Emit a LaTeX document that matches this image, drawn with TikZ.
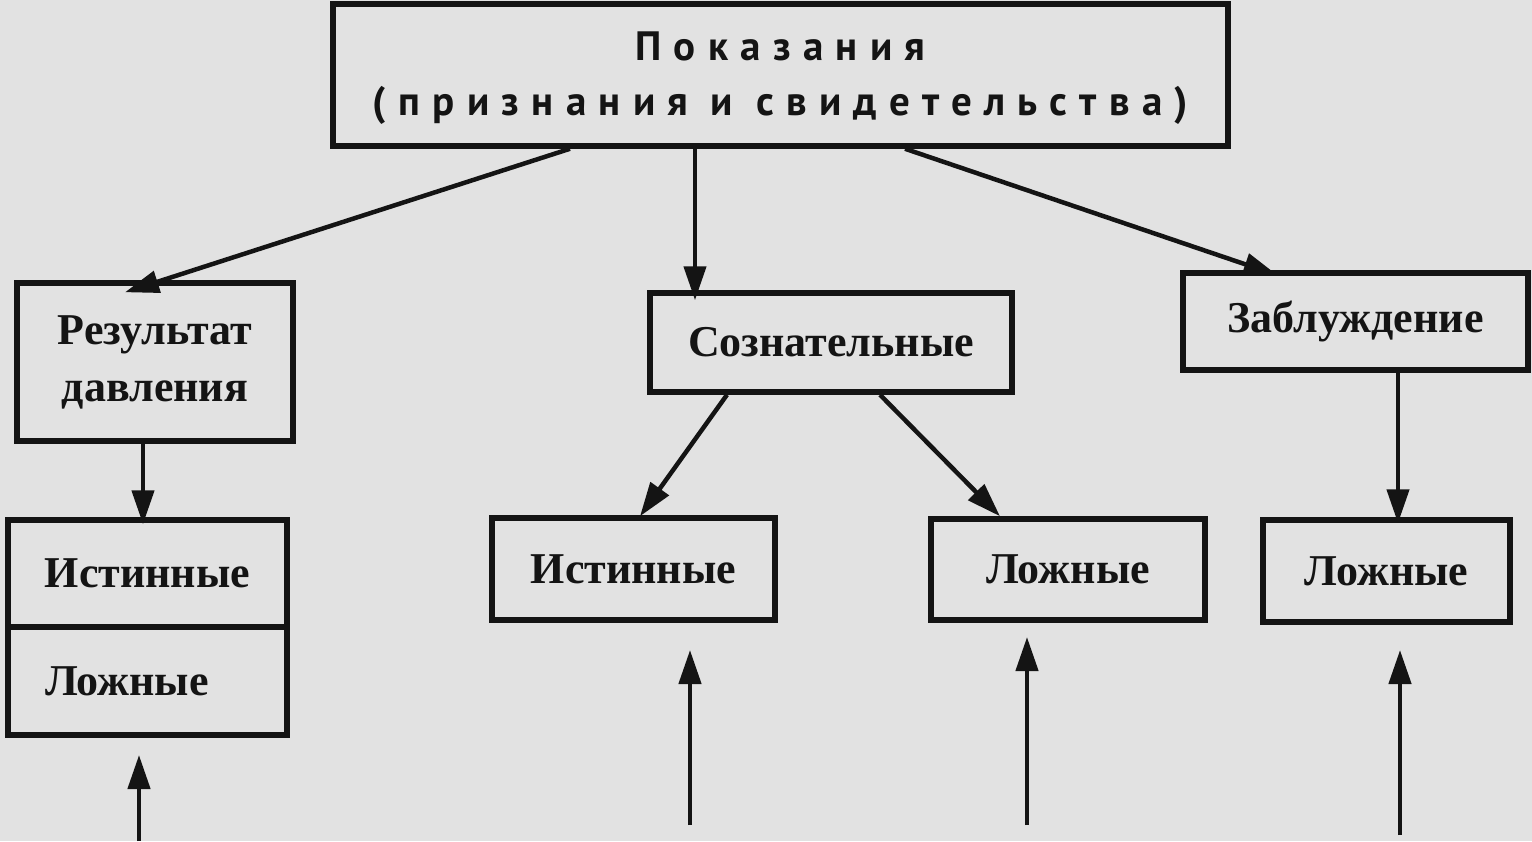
\documentclass[tikz,border=0pt]{standalone}
\usepackage{fontspec}
\setmainfont{Liberation Serif}
\newfontfamily\topfont[LetterSpace=30]{PT Sans}
\usetikzlibrary{arrows.meta,calc}
\definecolor{paper}{RGB}{226,226,226}
\definecolor{ink}{RGB}{20,20,20}
\begin{document}
\begin{tikzpicture}[x=1pt,y=-1pt,
  box/.style={draw=ink,line width=5.5pt,minimum width=#1,inner sep=0pt,text=ink,
    font=\bfseries\fontsize{44}{57}\selectfont,align=center},
  arr/.style={draw=ink,line width=4.5pt,-{Triangle[length=34pt,width=22pt]}}]
\fill[paper] (0,0) rectangle (1532,841);
\useasboundingbox (0,0) rectangle (1532,841);

\node[box=895pt,minimum height=142pt,font=\topfont\bfseries\fontsize{41}{55}\selectfont] (top) at (780.5,75) {};
\node[text=ink,font=\topfont\bfseries\fontsize{41}{55}\selectfont,align=center] (toptext) at (780.5,78)
  {Показания\\(признания и свидетельства)};
\node[box=276pt,minimum height=158pt] (rez) at (155,362) {Результат\\давления};
\node[box=362pt,minimum height=99pt] (soz) at (831,342.5) {Сознательные};
\node[box=345pt,minimum height=97pt] (zab) at (1355.5,321.5) {Заблуждение};

\node[box=279pt,minimum height=107pt] (ist1) at (147.5,573.5) {Истинные};
\node[box=279pt,minimum height=108pt,text width=205pt,align=left,inner xsep=37pt] (lozh1) at (147.5,681) {Ложные};
\node[box=283pt,minimum height=102pt] (ist2) at (633.5,569) {Истинные};
\node[box=274pt,minimum height=101pt] (lozh2) at (1068,569.5) {Ложные};
\node[box=247pt,minimum height=102pt] (lozh3) at (1386.5,571) {Ложные};

\coordinate (b1) at (139,841);
\coordinate (b2) at (690,825);
\coordinate (b3) at (1027,825);
\coordinate (b4) at (1400,835);

\draw[arr] ([xshift=-210.5pt]top.south) -- ([xshift=-30pt,yshift=-12pt]rez.north);
\draw[arr] ([xshift=-85.5pt]top.south) -- ([xshift=-136pt,yshift=-10pt]soz.north);
\draw[arr] ([xshift=124.5pt]top.south) -- ([xshift=-78pt,yshift=-5pt]zab.north);
\draw[arr] ([xshift=-12pt]rez.south) -- ([xshift=-4.5pt,yshift=-7pt]ist1.north);
\draw[arr] ([xshift=-104pt]soz.south) -- ([xshift=6.5pt,yshift=-1pt]ist2.north);
\draw[arr] ([xshift=49pt]soz.south) -- ([xshift=-68pt,yshift=0pt]lozh2.north);
\draw[arr] ([xshift=42.5pt]zab.south) -- ([xshift=11.5pt,yshift=-6pt]lozh3.north);

\draw[arr] (b1) -- (b1 |- 0,755);
\draw[arr] (b2) -- (b2 |- 0,650);
\draw[arr] (b3) -- (b3 |- 0,637);
\draw[arr] (b4) -- (b4 |- 0,650);
\end{tikzpicture}
\end{document}
